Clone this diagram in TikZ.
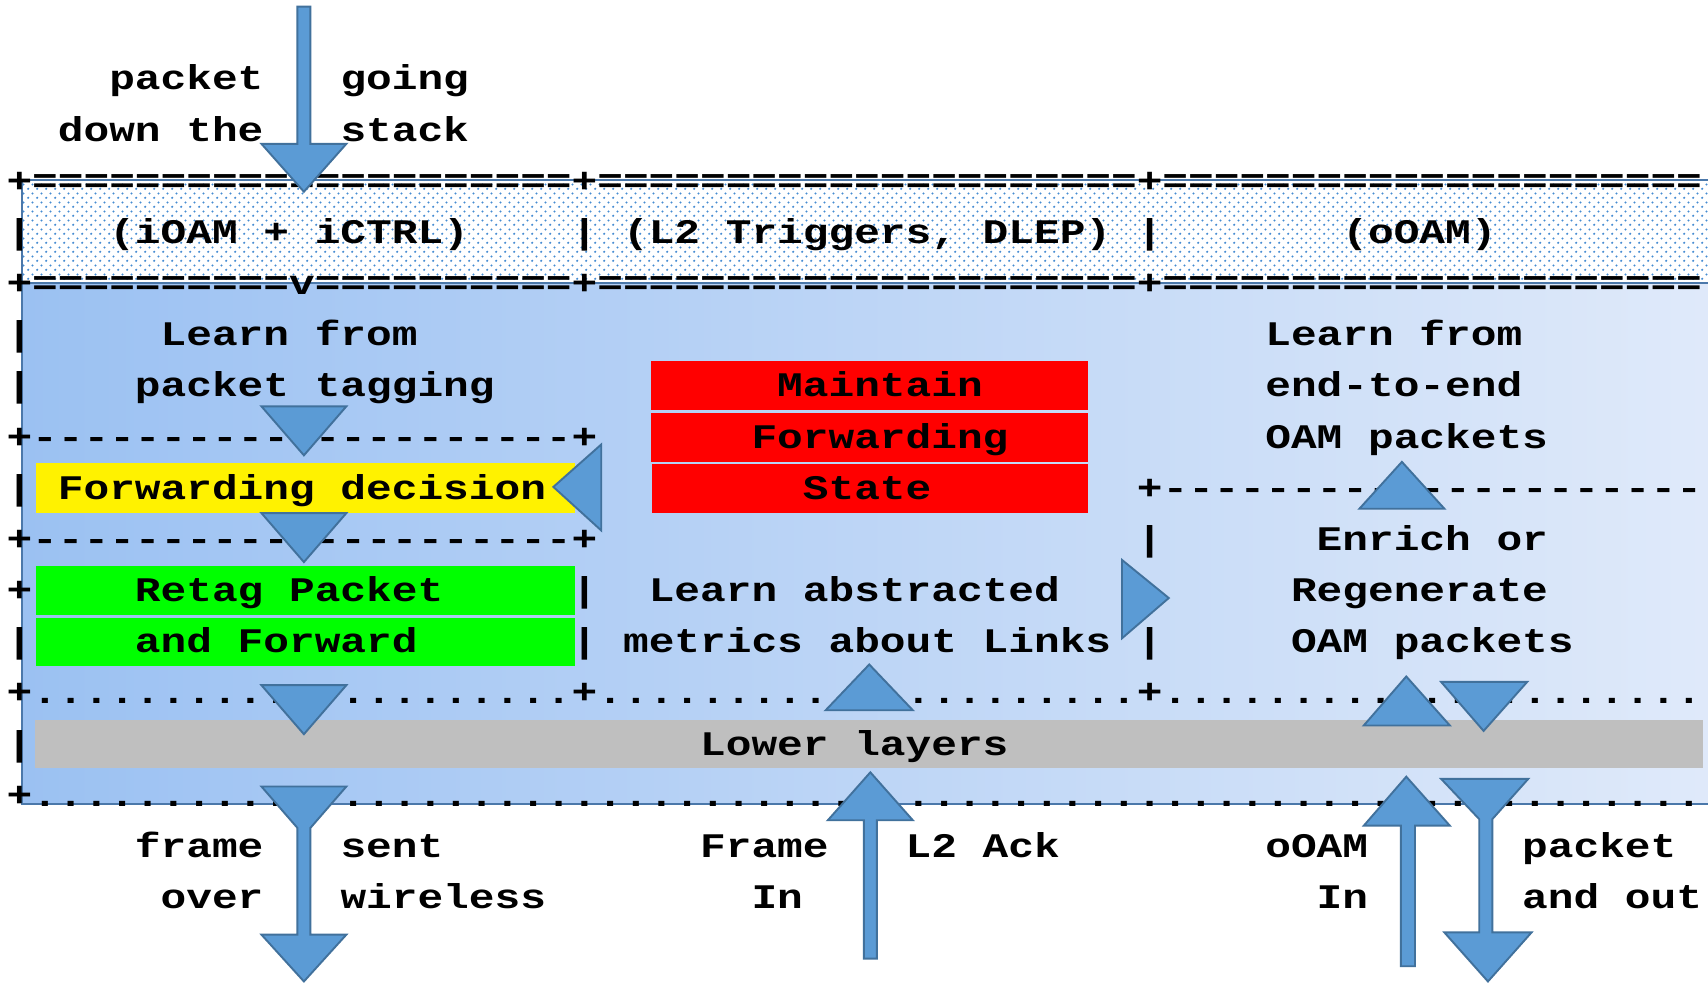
\documentclass[tikz,border=0pt]{standalone}
\usepackage{fontspec}
\setmonofont{Liberation Mono}[FakeStretch=1.2418]
\usetikzlibrary{patterns.meta}

\definecolor{triblue}{RGB}{91,155,213}
\definecolor{triedge}{RGB}{65,113,156}
\definecolor{bandedge}{RGB}{75,120,170}
\definecolor{dotblue}{RGB}{70,140,210}
\definecolor{gradleft}{RGB}{155,193,242}
\definecolor{gradright}{RGB}{224,234,250}
\definecolor{lowgray}{RGB}{191,191,191}

\tikzdeclarepattern{name=finedots, type=uncolored,
  bounding box={(0pt,0pt) and (2.3pt,2.3pt)}, tile size={(2.3pt,2.3pt)},
  code={\fill (0.575pt,0.575pt) circle (0.32pt); \fill (1.725pt,1.725pt) circle (0.32pt);}}

\tikzset{
  asc/.style={font=\ttfamily\bfseries\fontsize{9}{11}\selectfont, inner sep=0pt, outer sep=0pt, anchor=base west},
  tri/.style={fill=triblue, draw=triedge, line width=0.5pt},
  panel/.style={draw=bandedge, line width=0.6pt}
}

\begin{document}
\begin{tikzpicture}[x=0.01cm, y=-0.01cm]
\useasboundingbox (0,0) rectangle (1568,905);
\fill[white] (0,0) rectangle (1568,905);

\draw[panel, pattern=finedots, pattern color=dotblue] (20,165) rectangle (1590,260);
\draw[panel, left color=gradleft, right color=gradright] (20,260) rectangle (1590,738);

\fill[yellow] (33,425) rectangle (528,471);
\fill[green] (33,520) rectangle (528,565);
\fill[green] (33,567) rectangle (528,611);
\fill[red] (598,331) rectangle (999,376);
\fill[red] (598,379) rectangle (999,424);
\fill[red] (599,426) rectangle (999,471);
\fill[lowgray] (32,661) rectangle (1563,705);

\begin{scope}[shift={(6,82.6)}, x=0.2357cm, y=-0.4694cm]
\node[asc] (pk) at (4,0) {packet}; \node[asc] (going) at (13,0) {going};
\node[asc] (downthe) at (2,1) {down the}; \node[asc] (stack) at (13,1) {stack};
\node[asc] (eqtop) at (0,2) {+=====================+=====================+=====================};
\node[asc] (bara) at (0,3) {|}; \node[asc] (ioam) at (4,3) {(iOAM + iCTRL)};
\node[asc] (barb) at (22,3) {|}; \node[asc] (ltrig) at (24,3) {(L2 Triggers, DLEP)};
\node[asc] (barc) at (44,3) {|}; \node[asc] (ooam) at (52,3) {(oOAM)};
\node[asc] (eqmid) at (0,4) {+==========v==========+=====================+=====================};
\node[asc] (bard) at (0,5) {|}; \node[asc] (learnl) at (6,5) {Learn from}; \node[asc] (learnr) at (49,5) {Learn from};
\node[asc] (bare) at (0,6) {|}; \node[asc] (tagging) at (5,6) {packet tagging};
\node[asc] (maint) at (30,6) {Maintain}; \node[asc] (endend) at (49,6) {end-to-end};
\node[asc] (dasha) at (0,7) {+---------------------+};
\node[asc] (fwdst) at (29,7) {Forwarding}; \node[asc] (oama) at (49,7) {OAM packets};
\node[asc] (barf) at (0,8) {|}; \node[asc] (fwddec) at (2,8) {Forwarding decision};
\node[asc] (state) at (31,8) {State}; \node[asc] (dashr) at (44,8) {+---------------------};
\node[asc] (dashb) at (0,9) {+---------------------+};
\node[asc] (barg) at (44,9) {|}; \node[asc] (enrich) at (51,9) {Enrich or};
\node[asc] (plsa) at (0,10) {+}; \node[asc] (retag) at (5,10) {Retag Packet};
\node[asc] (barh) at (22,10) {|}; \node[asc] (abstr) at (25,10) {Learn abstracted};
\node[asc] (regen) at (50,10) {Regenerate};
\node[asc] (bari) at (0,11) {|}; \node[asc] (andfwd) at (5,11) {and Forward};
\node[asc] (barj) at (22,11) {|}; \node[asc] (metrics) at (24,11) {metrics about Links};
\node[asc] (bark) at (44,11) {|}; \node[asc] (oamb) at (50,11) {OAM packets};
\node[asc] (dota) at (0,12) {+.....................+.....................+.....................};
\node[asc] (barl) at (0,13) {|}; \node[asc] (lower) at (27,13) {Lower layers};
\node[asc] (dotb) at (0,14) {+.................................................................};
\node[asc] (frame) at (5,15) {frame}; \node[asc] (sent) at (13,15) {sent};
\node[asc] (framein) at (27,15) {Frame}; \node[asc] (ack) at (35,15) {L2 Ack};
\node[asc] (ooamin) at (49,15) {oOAM}; \node[asc] (pkout) at (59,15) {packet};
\node[asc] (over) at (6,16) {over}; \node[asc] (wireless) at (13,16) {wireless};
\node[asc] (ina) at (29,16) {In}; \node[asc] (inb) at (51,16) {In}; \node[asc] (andout) at (59,16) {and out};
\end{scope}

\draw[tri] (273,6) -- (285,6) -- (285,132) -- (318,132) -- (279,176) -- (240,132) -- (273,132) -- cycle;
\draw[tri] (240,373) -- (318,373) -- (279,418) -- cycle;
\draw[tri] (552,408) -- (552,487) -- (508,447) -- cycle;
\draw[tri] (240,471) -- (318,471) -- (279,516) -- cycle;
\draw[tri] (240,629) -- (318,629) -- (279,674) -- cycle;
\draw[tri] (240,722) -- (318,722) -- (285,760) -- (285,858) -- (318,858) -- (279,901) -- (240,858) -- (273,858) -- (273,760) -- cycle;
\draw[tri] (758,652) -- (838,652) -- (798,610) -- cycle;
\draw[tri] (793,880) -- (793,753) -- (760,753) -- (799,709) -- (838,753) -- (805,753) -- (805,880) -- cycle;
\draw[tri] (1030,514) -- (1030,586) -- (1073,549) -- cycle;
\draw[tri] (1248,467) -- (1326,467) -- (1287,424) -- cycle;
\draw[tri] (1252,666) -- (1331,666) -- (1291,621) -- cycle;
\draw[tri] (1323,626) -- (1402,626) -- (1362,671) -- cycle;
\draw[tri] (1286,887) -- (1286,758) -- (1252,758) -- (1291,713) -- (1331,758) -- (1299,758) -- (1299,887) -- cycle;
\draw[tri] (1323,715) -- (1403,715) -- (1370,752) -- (1370,856) -- (1406,856) -- (1366,901) -- (1326,856) -- (1358,856) -- (1358,752) -- cycle;
\end{tikzpicture}
\end{document}
